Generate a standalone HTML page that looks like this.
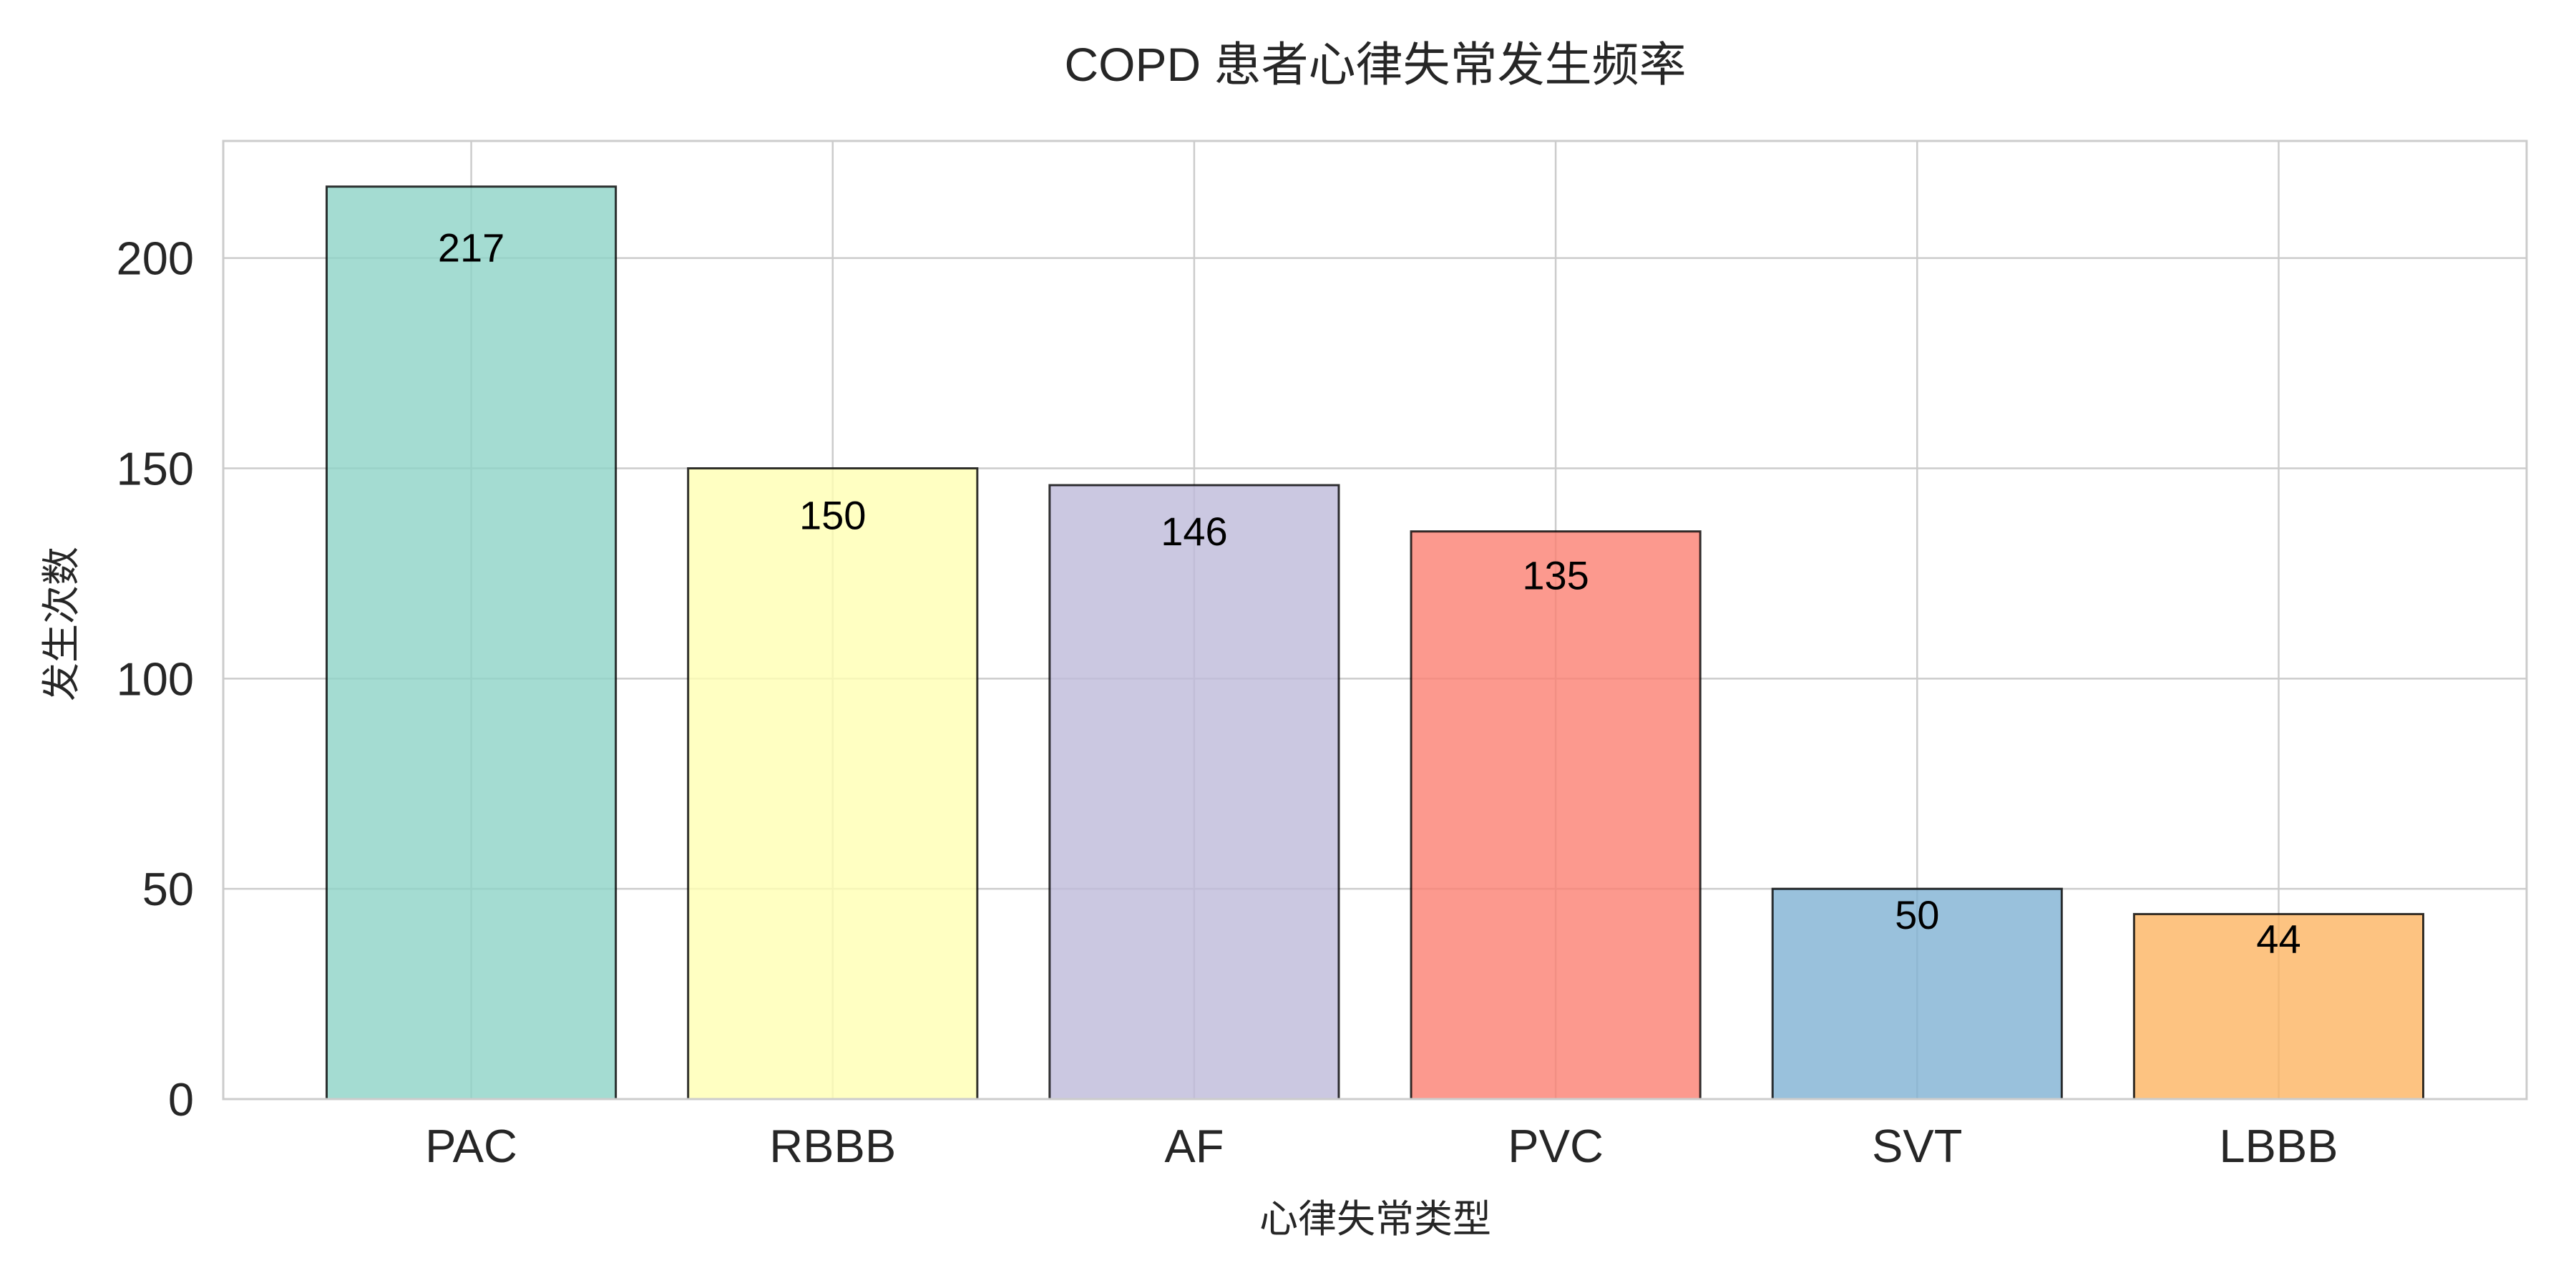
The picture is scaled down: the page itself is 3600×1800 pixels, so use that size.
<!DOCTYPE html>
<html><head><meta charset="utf-8"><style>
html,body{margin:0;padding:0;background:#fff;}
svg{display:block;font-family:"Liberation Sans","Noto Sans CJK SC",sans-serif;}
</style></head><body>
<svg id="chart" width="3600" height="1800" viewBox="0 0 3600 1800">
<text x="1922" y="113" font-size="66" text-anchor="middle" fill="#262626">COPD 患者心律失常发生频率</text>
<g id="grid"></g>
<g id="bars"></g>
<rect x="312" y="197" width="3219" height="1339" fill="none" stroke="#cccccc" stroke-width="3"/>
<g id="ticks"></g>
<text x="0" y="0" font-size="54" text-anchor="middle" fill="#262626" transform="translate(104,872) rotate(-90)">发生次数</text>
<text x="1922" y="1722" font-size="54" text-anchor="middle" fill="#262626">心律失常类型</text>
</svg>
<script>
const categories = ["PAC","RBBB","AF","PVC","SVT","LBBB"];
const values = [217,150,146,135,50,44];
const colors = ["#8dd3c7","#ffffb3","#bebada","#fb8072","#80b1d3","#fdb462"];
const yTicks = [0,50,100,150,200];
const NS="http://www.w3.org/2000/svg";
const L=312,R=3531,T=197,B=1536;
const ymax=Math.max(...values)*1.05;
const xmin=-0.686,xmax=categories.length-1+0.686;
const xs=v=>L+(v-xmin)/(xmax-xmin)*(R-L);
const ys=v=>B-v/ymax*(B-T);
function mk(tag,attrs,parent){const e=document.createElementNS(NS,tag);for(const k in attrs)e.setAttribute(k,attrs[k]);parent.appendChild(e);return e;}
const grid=document.getElementById('grid'),bars=document.getElementById('bars'),ticks=document.getElementById('ticks');
yTicks.forEach(t=>{
  const y=ys(t);
  const g=mk('line',{x1:L,x2:R,y1:y,y2:y,stroke:'#cccccc','stroke-width':2.5},grid);
  
  
  const lb=mk('text',{x:271,y:y+23,'font-size':65,'text-anchor':'end',fill:'#262626'},ticks);
  lb.textContent=t;
  
  
});
categories.forEach((c,i)=>{
  const x=xs(i);
  const g=mk('line',{x1:x,x2:x,y1:T,y2:B,stroke:'#cccccc','stroke-width':2.5},grid);
  
  
  const w=(xs(0.4)-xs(-0.4));
  const r=mk('rect',{x:x-w/2,y:ys(values[i]),width:w,height:B-ys(values[i]),fill:colors[i],'fill-opacity':0.8,stroke:'#000','stroke-opacity':0.8,'stroke-width':3},bars);
  
  
  const v=mk('text',{x:x,y:ys(values[i]*0.95)+41,'font-size':56,'text-anchor':'middle',fill:'#000'},bars);
  v.textContent=values[i];
  
  
  const lb=mk('text',{x:x,y:1624,'font-size':65,'text-anchor':'middle',fill:'#262626'},ticks);
  lb.textContent=c;
  
  
});
</script>
</body></html>
